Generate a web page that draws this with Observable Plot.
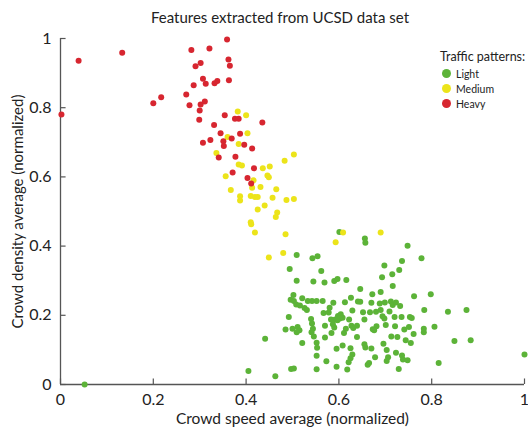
<!DOCTYPE html>
<html>
<head>
<meta charset="utf-8">
<script src="https://cdn.jsdelivr.net/npm/d3@7"></script>
<script src="https://cdn.jsdelivr.net/npm/@observablehq/plot@0.6"></script>
<style>
  html, body { margin: 0; padding: 0; background: #fff; }
  body { width: 528px; height: 440px; position: relative; overflow: hidden; font-family: Lato, "Open Sans", sans-serif; }
  #title { height: 30px; line-height: 34px; font-size: 15px; color: #222; text-align: center; padding-left: 32px; box-sizing: border-box; width: 528px; }
  #legend { position: absolute; left: 440px; top: 49px; font-size: 10.5px; color: #222; }
  #legend .head { font-size: 12.5px; margin-bottom: 2px; }
  #legend .item { display: flex; align-items: center; height: 15px; margin-left: 2px; }
  #legend .sw { width: 9px; height: 9px; border-radius: 50%; margin-right: 5px; }
</style>
</head>
<body>
<div id="title">Features extracted from UCSD data set</div>
<div id="chart"></div>
<div id="legend"></div>
<script>
const categories = ["Light", "Medium", "Heavy"];
const colors = ["#5cb338", "#ece41a", "#d72630"];
const xTicks = [0, 0.2, 0.4, 0.6, 0.8, 1];
const xTickLabels = ["0", "0.2", "0.4", "0.6", "0.8", "1"];
const yTicks = [0, 0.2, 0.4, 0.6, 0.8, 1];
const yTickLabels = ["0", "0.2", "0.4", "0.6", "0.8", "1"];
const xLabel = "Crowd speed average (normalized)";
const yLabel = "Crowd density average (normalized)";
const legendTitle = "Traffic patterns:";

const heavy = [
  [0.359,0.997],[0.282,0.967],[0.321,0.971],[0.362,0.939],[0.291,0.920],[0.302,0.929],[0.365,0.921],
  [0.307,0.884],[0.287,0.865],[0.313,0.869],[0.332,0.871],[0.338,0.877],[0.363,0.879],[0.271,0.838],
  [0.200,0.813],[0.217,0.830],[0.278,0.807],[0.302,0.809],[0.311,0.818],[0.300,0.792],[0.299,0.765],
  [0.354,0.778],[0.376,0.768],[0.384,0.768],[0.435,0.757],[0.331,0.750],[0.345,0.726],[0.387,0.725],
  [0.323,0.707],[0.307,0.699],[0.351,0.703],[0.369,0.711],[0.352,0.689],[0.396,0.693],[0.413,0.682],
  [0.341,0.656],[0.377,0.658],[0.417,0.625],[0.371,0.613],[0.403,0.597],[0.411,0.581],[0.002,0.780],
  [0.039,0.936],[0.133,0.959]
];
const medium = [
  [0.382,0.789],[0.400,0.778],[0.403,0.726],[0.360,0.715],[0.384,0.695],[0.336,0.669],[0.384,0.636],
  [0.391,0.633],[0.436,0.625],[0.451,0.630],[0.483,0.647],[0.503,0.665],[0.446,0.604],[0.449,0.599],
  [0.356,0.602],[0.416,0.590],[0.431,0.571],[0.413,0.569],[0.465,0.564],[0.367,0.562],[0.387,0.544],
  [0.387,0.532],[0.410,0.545],[0.419,0.542],[0.425,0.542],[0.457,0.540],[0.487,0.533],[0.503,0.536],
  [0.425,0.506],[0.440,0.517],[0.467,0.497],[0.464,0.484],[0.410,0.469],[0.411,0.463],[0.419,0.439],
  [0.485,0.434],[0.593,0.411],[0.449,0.367],[0.480,0.380],[0.609,0.439],[0.690,0.439]
];
const light = [
  [0.601,0.441],[0.656,0.422],[0.657,0.410],[0.748,0.401],[0.509,0.374],[0.543,0.365],[0.554,0.371],
  [0.778,0.365],[0.736,0.357],[0.698,0.344],[0.494,0.334],[0.562,0.328],[0.730,0.331],[0.715,0.319],
  [0.693,0.310],[0.509,0.300],[0.545,0.298],[0.569,0.295],[0.590,0.299],[0.597,0.305],[0.616,0.302],
  [0.716,0.285],[0.646,0.276],[0.690,0.267],[0.672,0.261],[0.798,0.261],[0.762,0.255],[0.502,0.259],
  [0.496,0.245],[0.503,0.241],[0.521,0.249],[0.533,0.241],[0.542,0.241],[0.552,0.241],[0.565,0.241],
  [0.626,0.251],[0.613,0.238],[0.641,0.240],[0.646,0.239],[0.588,0.236],[0.670,0.236],[0.688,0.234],
  [0.699,0.237],[0.712,0.240],[0.716,0.230],[0.723,0.237],[0.732,0.227],[0.508,0.231],[0.516,0.228],
  [0.526,0.221],[0.531,0.215],[0.580,0.222],[0.629,0.214],[0.652,0.209],[0.667,0.209],[0.680,0.210],
  [0.690,0.215],[0.709,0.211],[0.784,0.215],[0.567,0.207],[0.578,0.208],[0.598,0.198],[0.604,0.203],
  [0.602,0.191],[0.597,0.186],[0.592,0.188],[0.608,0.193],[0.492,0.195],[0.540,0.189],[0.583,0.188],
  [0.622,0.188],[0.655,0.188],[0.694,0.197],[0.698,0.191],[0.720,0.195],[0.735,0.195],[0.753,0.195],
  [0.757,0.192],[0.627,0.170],[0.639,0.170],[0.542,0.176],[0.544,0.161],[0.511,0.166],[0.485,0.159],
  [0.500,0.161],[0.515,0.157],[0.570,0.170],[0.587,0.174],[0.590,0.165],[0.615,0.161],[0.631,0.163],
  [0.681,0.168],[0.701,0.172],[0.721,0.168],[0.741,0.159],[0.751,0.166],[0.783,0.161],[0.783,0.151],
  [0.806,0.167],[0.673,0.160],[0.676,0.157],[0.509,0.151],[0.541,0.151],[0.584,0.149],[0.611,0.149],
  [0.639,0.137],[0.713,0.139],[0.726,0.137],[0.744,0.128],[0.570,0.136],[0.546,0.139],[0.521,0.120],
  [0.552,0.121],[0.696,0.118],[0.755,0.120],[0.608,0.113],[0.655,0.116],[0.657,0.107],[0.553,0.106],
  [0.595,0.103],[0.625,0.105],[0.670,0.104],[0.703,0.100],[0.723,0.092],[0.629,0.087],[0.552,0.083],
  [0.678,0.079],[0.736,0.084],[0.738,0.072],[0.625,0.076],[0.706,0.079],[0.703,0.068],[0.573,0.067],
  [0.748,0.070],[0.621,0.064],[0.665,0.062],[0.662,0.057],[0.595,0.051],[0.618,0.043],[0.503,0.046],
  [0.552,0.044],[0.729,0.045],[0.815,0.062],[0.835,0.210],[0.875,0.215],[0.761,0.146],[0.849,0.126],
  [0.884,0.128],[1.000,0.087],[0.052,0.000],[0.405,0.039],[0.463,0.024],[0.497,0.045],[0.441,0.132]
];

const series = [light, medium, heavy];
const data = series.flatMap((pts, i) => pts.map(([x, y]) => ({x, y, cat: categories[i]})));

const chart = Plot.plot({
  width: 528,
  height: 410,
  marginLeft: 60,
  marginRight: 4,
  marginTop: 8,
  marginBottom: 56,
  style: { fontFamily: "Lato, 'Open Sans', sans-serif", color: "#222", background: "#fff", overflow: "visible" },
  x: { domain: [0, 1] },
  y: { domain: [0, 1] },
  color: { domain: categories, range: colors },
  marks: [
    Plot.axisX({ ticks: xTicks, tickFormat: (d, i) => xTickLabels[i], tickSize: 0, tickPadding: 9, fontSize: 16, label: null }),
    Plot.axisY({ ticks: yTicks, tickFormat: (d, i) => yTickLabels[i], tickSize: 0, tickPadding: 9, fontSize: 16, label: null }),
    Plot.ruleX(xTicks, { x: d => d, y1: 0, y2: 0.016, stroke: "#555", strokeWidth: 1.2 }),
    Plot.ruleY(yTicks, { y: d => d, x1: 0, x2: 0.012, stroke: "#555", strokeWidth: 1.2 }),
    Plot.ruleY([0], { stroke: "#555", strokeWidth: 1.3 }),
    Plot.ruleX([0], { stroke: "#555", strokeWidth: 1.3 }),
    Plot.dot(data, { x: "x", y: "y", fill: "cat", r: 3, stroke: null }),
    Plot.text([xLabel], { frameAnchor: "bottom", dy: 39, fontSize: 15.5, fill: "#222" }),
    Plot.text([yLabel], { frameAnchor: "left", textAnchor: "middle", dx: -42, rotate: -90, fontSize: 15, fill: "#222" })
  ]
});
document.getElementById("chart").appendChild(chart);

const legend = document.getElementById("legend");
const head = document.createElement("div");
head.className = "head";
head.textContent = legendTitle;
legend.appendChild(head);
categories.forEach((c, i) => {
  const item = document.createElement("div");
  item.className = "item";
  const sw = document.createElement("span");
  sw.className = "sw";
  sw.style.background = colors[i];
  const t = document.createElement("span");
  t.textContent = c;
  item.appendChild(sw);
  item.appendChild(t);
  legend.appendChild(item);
});
</script>
</body>
</html>
